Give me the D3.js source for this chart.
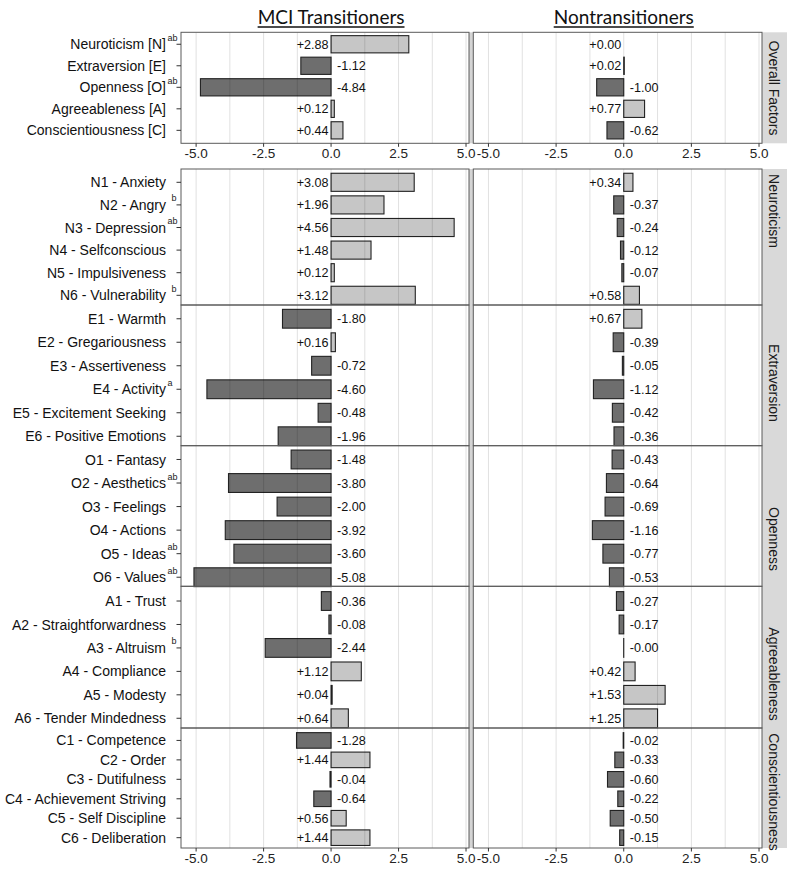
<!DOCTYPE html>
<html><head><meta charset="utf-8">
<script src="https://cdnjs.cloudflare.com/ajax/libs/d3/7.8.5/d3.min.js"></script>
<style>body{margin:0;background:#fff}</style>
</head><body><svg id="c" width="800" height="869"></svg>
<script>
// ---------- data ----------
const sideTitles = ["MCI Transitioners", "Nontransitioners"];
const xTicks = [-5, -2.5, 0, 2.5, 5];
const xMinor = [-3.75, -1.25, 1.25, 3.75];

const overallLabels = ["Neuroticism [N]", "Extraversion [E]", "Openness [O]", "Agreeableness [A]", "Conscientiousness [C]"];
const overallSup = ["ab", "", "ab", "", ""];
const overallMCI = [2.88, -1.12, -4.84, 0.12, 0.44];
const overallNon = [0.00, 0.02, -1.00, 0.77, -0.62];

const nLabels = ["N1 - Anxiety", "N2 - Angry", "N3 - Depression", "N4 - Selfconscious", "N5 - Impulsiveness", "N6 - Vulnerability"];
const nSup = ["", " b", "ab", "", "", " b"];
const nMCI = [3.08, 1.96, 4.56, 1.48, 0.12, 3.12];
const nNon = [0.34, -0.37, -0.24, -0.12, -0.07, 0.58];

const eLabels = ["E1 - Warmth", "E2 - Gregariousness", "E3 - Assertiveness", "E4 - Activity", "E5 - Excitement Seeking", "E6 - Positive Emotions"];
const eSup = ["", "", "", "a", "", ""];
const eMCI = [-1.80, 0.16, -0.72, -4.60, -0.48, -1.96];
const eNon = [0.67, -0.39, -0.05, -1.12, -0.42, -0.36];

const oLabels = ["O1 - Fantasy", "O2 - Aesthetics", "O3 - Feelings", "O4 - Actions", "O5 - Ideas", "O6 - Values"];
const oSup = ["", "ab", "", "", "ab", "ab"];
const oMCI = [-1.48, -3.80, -2.00, -3.92, -3.60, -5.08];
const oNon = [-0.43, -0.64, -0.69, -1.16, -0.77, -0.53];

const aLabels = ["A1 - Trust", "A2 - Straightforwardness", "A3 - Altruism", "A4 - Compliance", "A5 - Modesty", "A6 - Tender Mindedness"];
const aSup = ["", "", " b", "", "", ""];
const aMCI = [-0.36, -0.08, -2.44, 1.12, 0.04, 0.64];
const aNon = [-0.27, -0.17, -0.001, 0.42, 1.53, 1.25];

const cLabels = ["C1 - Competence", "C2 - Order", "C3 - Dutifulness", "C4 - Achievement Striving", "C5 - Self Discipline", "C6 - Deliberation"];
const cSup = ["", "", "", "", "", ""];
const cMCI = [-1.28, 1.44, -0.04, -0.64, 0.56, 1.44];
const cNon = [-0.02, -0.33, -0.60, -0.22, -0.50, -0.15];

const stripNames = ["Overall Factors", "Neuroticism", "Extraversion", "Openness", "Agreeableness", "Conscientiousness"];

// ---------- layout ----------
const FONT = "'Liberation Sans', Arial, sans-serif";
const panels = [
  {labels: overallLabels, sup: overallSup, vals: [overallMCI, overallNon], box: [32.3, 143.3], pad: [1.2, -2.2], strip: 88, axis: true},
  {labels: nLabels, sup: nSup, vals: [nMCI, nNon], box: [169, 305], pad: [2, 1.6], strip: 211},
  {labels: eLabels, sup: eSup, vals: [eMCI, eNon], box: [305, 445.7], pad: [2, 2.3], strip: 383},
  {labels: oLabels, sup: oSup, vals: [oMCI, oNon], box: [445.7, 586.3], pad: [2, 2.7], strip: 539},
  {labels: aLabels, sup: aSup, vals: [aMCI, aNon], box: [586.3, 728], pad: [3, 2], strip: 674},
  {labels: cLabels, sup: cSup, vals: [cMCI, cNon], box: [728, 848], pad: [2.7, -0.6], strip: 792, axis: true}
];
panels.forEach((p, i) => p.name = stripNames[i]);

const x = d3.scaleLinear().domain([-5.56, 5.11]);
const xs = [x.copy().range([181, 469]), x.copy().range([473.3, 762])];
const stripX = [762, 787];

const svg = d3.select("#c");
const fmt = v => (v < 0 ? "-" : "+") + Math.abs(v).toFixed(2);

// titles
sideTitles.forEach((t, s) => {
  const cx = xs[s](0);
  const tx = svg.append("text").attr("x", cx).attr("y", 23.5)
    .attr("text-anchor", "middle").attr("font-family", "Lato, 'Open Sans', sans-serif")
    .attr("font-size", 19).attr("fill", "#111").text(t);
  const w = tx.node().getComputedTextLength();
  svg.append("line").attr("x1", cx - w / 2).attr("x2", cx + w / 2)
    .attr("y1", 27).attr("y2", 27).attr("stroke", "#111").attr("stroke-width", 1.3);
});

// group-level blocks (top block and bottom block)
const blocks = [[panels[0]], panels.slice(1)];
blocks.forEach(bl => {
  const top = bl[0].box[0], bot = bl[bl.length - 1].box[1];
  // gap between panels
  svg.append("rect").attr("x", xs[0].range()[1]).attr("y", top)
    .attr("width", xs[1].range()[0] - xs[0].range()[1]).attr("height", bot - top)
    .attr("fill", "#d4d4d4");
  // strip background
  svg.append("rect").attr("x", stripX[0]).attr("y", top)
    .attr("width", stripX[1] - stripX[0]).attr("height", bot - top).attr("fill", "#d9d9d9");
  xs.forEach(sc => {
    const [r0, r1] = sc.range();
    svg.append("rect").attr("x", r0).attr("y", top).attr("width", r1 - r0).attr("height", bot - top).attr("fill", "#fff");
  });
});

panels.forEach(p => {
  const y = d3.scaleBand().domain(p.labels)
    .range([p.box[0] + p.pad[0], p.box[1] + p.pad[1]])
    .paddingInner(0.2).paddingOuter(0.1);
  const g = svg.append("g");

  xs.forEach((sc, s) => {
    const vals = p.vals[s];
    const [r0, r1] = sc.range();
    const pg = g.append("g");
    // bars
    pg.selectAll("rect.bar").data(vals).join("rect").attr("class", "bar")
      .attr("x", v => sc(Math.min(0, v)))
      .attr("width", v => Math.abs(sc(v) - sc(0)))
      .attr("y", (v, i) => y(p.labels[i]))
      .attr("height", y.bandwidth())
      .attr("fill", v => v < 0 ? "#6e6e6e" : "#c6c6c6")
      .attr("stroke", "#222").attr("stroke-width", 1.1);
    // gridlines (drawn over bars, faint)
    pg.selectAll("line.grid").data(xTicks.concat(xMinor)).join("line").attr("class", "grid")
      .attr("x1", d => sc(d)).attr("x2", d => sc(d))
      .attr("y1", p.box[0]).attr("y2", p.box[1])
      .attr("stroke", "#000").attr("stroke-opacity", 0.12).attr("stroke-width", 1);
    // value labels
    pg.selectAll("text.val").data(vals).join("text").attr("class", "val")
      .attr("x", v => v < 0 ? sc(0) + 6 : sc(0) - 2.5)
      .attr("y", (v, i) => y(p.labels[i]) + y.bandwidth() / 2)
      .attr("dy", "0.36em")
      .attr("text-anchor", v => v < 0 ? "start" : "end")
      .attr("font-family", FONT).attr("font-size", 12.6).attr("fill", "#111")
      .text(fmt);
    // panel border
    pg.append("rect").attr("x", r0).attr("y", p.box[0]).attr("width", r1 - r0)
      .attr("height", p.box[1] - p.box[0]).attr("fill", "none")
      .attr("stroke", "#5a5a5a").attr("stroke-width", 1);
  });

  // y axis labels + ticks
  const ax0 = xs[0].range()[0];
  p.labels.forEach((lab, i) => {
    const cy = y(lab) + y.bandwidth() / 2;
    g.append("line").attr("x1", ax0 - 4.5).attr("x2", ax0).attr("y1", cy).attr("y2", cy)
      .attr("stroke", "#333").attr("stroke-width", 1);
    g.append("text").attr("x", 166).attr("y", cy).attr("dy", "0.36em")
      .attr("text-anchor", "end").attr("font-family", FONT).attr("font-size", 14)
      .attr("fill", "#111").text(lab);
    const sp = p.sup[i];
    if (sp.trim()) {
      g.append("text").attr("x", sp.startsWith(" ") ? 171.5 : 167.5).attr("y", cy - 3.5)
        .attr("font-family", FONT).attr("font-size", 9).attr("fill", "#222").text(sp.trim());
    }
  });

  // strip label
  svg.append("text").attr("transform", `translate(${(stripX[0] + stripX[1]) / 2},${p.strip}) rotate(90)`)
    .attr("text-anchor", "middle").attr("dy", "0.36em")
    .attr("font-family", FONT).attr("font-size", 14).attr("fill", "#1a1a1a").text(p.name);

  // x axis
  if (p.axis) {
    xs.forEach(sc => {
      xTicks.forEach(t => {
        svg.append("line").attr("x1", sc(t)).attr("x2", sc(t))
          .attr("y1", p.box[1]).attr("y2", p.box[1] + 3.5).attr("stroke", "#333");
        svg.append("text").attr("x", sc(t)).attr("y", p.box[1] + 15)
          .attr("text-anchor", "middle").attr("font-family", FONT).attr("font-size", 13.5)
          .attr("fill", "#222").text(d3.format(".1f")(t).replace("\u2212", "-"));
      });
    });
  }
});
</script>
</body></html>
